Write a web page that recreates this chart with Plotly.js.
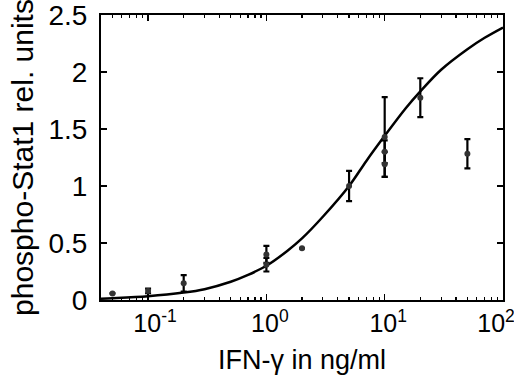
<!DOCTYPE html>
<html>
<head>
<meta charset="utf-8">
<script src="https://cdn.plot.ly/plotly-3.0.1.min.js"></script>
<style>html,body{margin:0;padding:0;background:#fff;}#chart{width:514px;height:376px;}</style>
</head>
<body>
<div id="chart"></div>
<script>
// Measured data points (IFN-gamma dose in ng/ml, phospho-Stat1 rel. units)
var doseX = [0.05, 0.1, 0.2, 1, 1, 2, 5, 10, 10, 10, 20, 50];
var stat1Y = [0.058, 0.079, 0.146, 0.40, 0.31, 0.453, 1.0, 1.43, 1.30, 1.19, 1.775, 1.283];
var errY = [0, 0.02, 0.073, 0.074, 0.06, 0, 0.133, 0.35, 0.1, 0.11, 0.17, 0.128];

// Fitted curve
var fitX = [0.04, 0.05, 0.1, 0.2, 0.3, 0.5, 0.7, 1, 1.5, 2, 3, 5, 7, 10, 15, 20, 30, 50, 70, 100];
var fitY = [0.012, 0.016, 0.033, 0.065, 0.095, 0.16, 0.22, 0.30, 0.43, 0.54, 0.73, 1.0, 1.22, 1.44, 1.68, 1.83, 2.02, 2.2, 2.3, 2.39];

// Axis ticks
var xTickVals = [0.1, 1, 10, 100];
var xTickText = ['\u00a0\u00a010<sup>-1</sup>', '\u00a010<sup>0</sup>', '\u00a010<sup>1</sup>', '10<sup>2</sup>\u00a0\u00a0'];
var yTickVals = [0, 0.5, 1, 1.5, 2, 2.5];
var yTickText = ['0', '0.5', '1', '1.5', '2', '2.5'];

var minorX = [];
[0.01, 0.1, 1, 10].forEach(function (d) {
  for (var k = 2; k <= 9; k++) { var v = d * k; if (v > 0.04 && v < 100) minorX.push(v); }
});

var font = 'Liberation Sans, Arial, Helvetica, sans-serif';

var traces = [
  {
    x: fitX, y: fitY, type: 'scatter', mode: 'lines',
    line: {color: '#000', width: 2.5, shape: 'spline', smoothing: 1},
    hoverinfo: 'skip', showlegend: false
  },
  {
    x: doseX, y: stat1Y, type: 'scatter', mode: 'markers',
    marker: {color: '#333', size: 6, symbol: 'circle'},
    error_y: {type: 'data', array: errY, visible: true, color: '#000', thickness: 2.2, width: 3},
    showlegend: false
  }
];

var layout = {
  width: 514, height: 376,
  margin: {l: 101, r: 11, t: 15, b: 76},
  paper_bgcolor: '#fff', plot_bgcolor: '#fff',
  font: {family: font, size: 26, color: '#000'},
  xaxis: {
    type: 'log',
    range: [Math.log10(0.04), 2],
    tickmode: 'array', tickvals: xTickVals, ticktext: xTickText,
    ticklabeloverflow: 'allow',
    ticks: 'inside', ticklen: 6, tickwidth: 1.5, tickcolor: '#000',
    minor: {tickmode: 'array', tickvals: minorX, ticks: 'inside', ticklen: 3, tickwidth: 1.2, tickcolor: '#000', showgrid: false},
    showline: true, linecolor: '#000', linewidth: 2, mirror: 'ticks',
    showgrid: false, zeroline: false,
    tickfont: {family: font, size: 25},
    title: {text: 'IFN-γ in ng/ml', font: {family: font, size: 27}, standoff: 14}
  },
  yaxis: {
    range: [0, 2.5],
    tickmode: 'array', tickvals: yTickVals, ticktext: yTickText,
    ticklabeloverflow: 'allow',
    ticks: 'inside', ticklen: 6, tickwidth: 1.5, tickcolor: '#000',
    ticklabelstandoff: 6,
    showline: true, linecolor: '#000', linewidth: 2, mirror: 'ticks',
    showgrid: false, zeroline: false,
    tickfont: {family: font, size: 28},
    title: {text: 'phospho-Stat1 rel. units', font: {family: font, size: 30}, standoff: 6}
  }
};

Plotly.newPlot('chart', traces, layout, {displayModeBar: false, staticPlot: true});
</script>
</body>
</html>
